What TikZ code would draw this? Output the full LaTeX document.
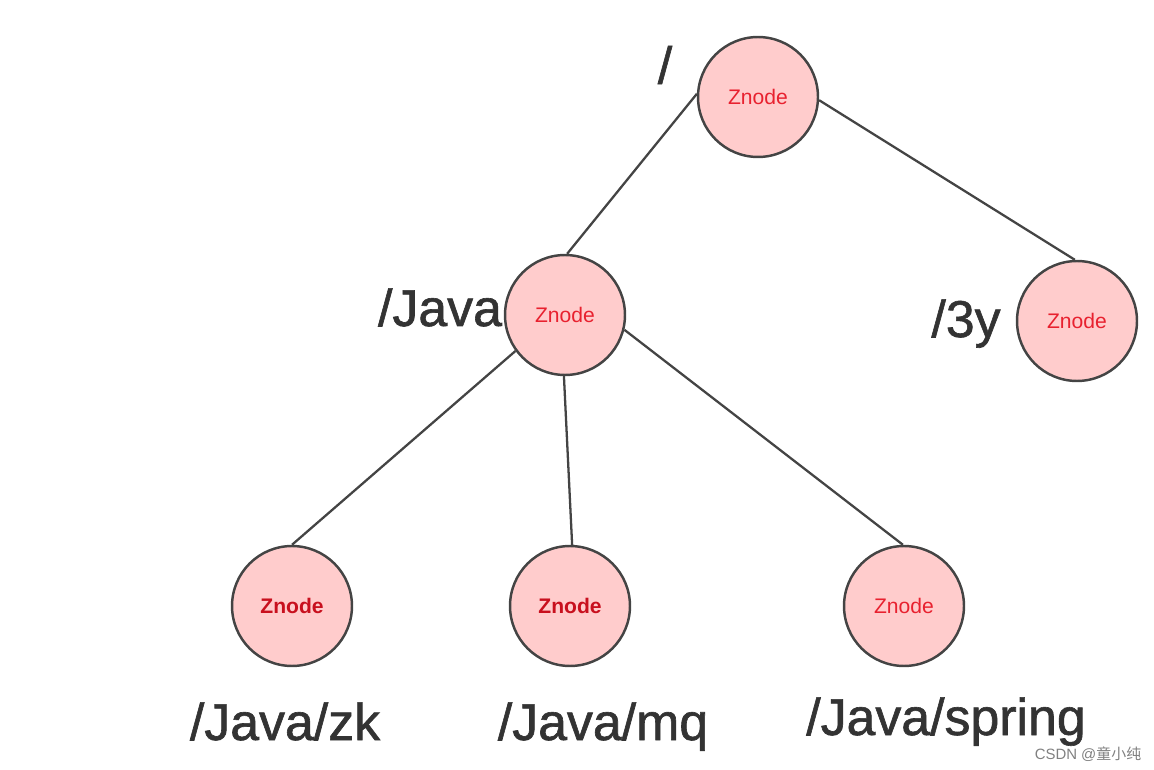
\documentclass[tikz,border=0pt]{standalone}
\usepackage{fontspec}
\setmainfont{Liberation Sans}
\newfontfamily\lblfont{Liberation Sans}[FakeBold=1.2]
\newfontfamily\cjk{Noto Sans CJK SC}
\definecolor{nodefill}{HTML}{FFCCCC}
\definecolor{nodeline}{HTML}{444444}
\definecolor{znred}{HTML}{E8212F}
\definecolor{zndark}{HTML}{C8101E}
\definecolor{labelc}{HTML}{333333}
\begin{document}
\begin{tikzpicture}[x=0.02cm,y=-0.02cm,
  znode/.style={circle,draw=nodeline,fill=nodefill,line width=1.4pt,minimum size=2.4cm,inner sep=0pt,
    text=znred,font=\fontsize{12}{14}\selectfont},
  znodeb/.style={znode,text=zndark,font=\fontsize{12}{14}\selectfont\bfseries},
  edge/.style={draw=nodeline,line width=1.3pt},
  lbl/.style={text=labelc,font=\lblfont\fontsize{29.5}{34}\selectfont,inner sep=0pt}]
\useasboundingbox (0,0) rectangle (1154,770);
\node[znode] (root) at (758,97) {Znode};
\node[znode] (java) at (565,315) {Znode};
\node[znode] (y3) at (1077,321) {Znode};
\node[znodeb] (zk) at (292,606) {Znode};
\node[znodeb] (mq) at (570,606) {Znode};
\node[znode] (spring) at (904,606) {Znode};
\draw[edge] (root.177) -- (java.88);
\draw[edge] (root.-3) -- (y3.92);
\draw[edge] (java.216) -- (zk.90);
\draw[edge] (java.269) -- (mq.88);
\draw[edge] (java.346) -- (spring.91);
\node[lbl,anchor=center] (lroot) at (665,65) {/};
\node[lbl,anchor=base] (ljava) at (440,326) {/Java};
\node[lbl,anchor=base] (l3y) at (966,337) {/3y};
\node[lbl,anchor=base] (lzk) at (285,740) {/Java/zk};
\node[lbl,anchor=base] (lmq) at (603,740) {/Java/mq};
\node[lbl,anchor=base] (lspring) at (946,735) {/Java/spring};
\node[text=gray,font=\fontsize{8.5}{10}\selectfont,inner sep=0pt] (wm) at (1088,754) {CSDN @{\cjk 童小纯}};
\end{tikzpicture}
\end{document}
